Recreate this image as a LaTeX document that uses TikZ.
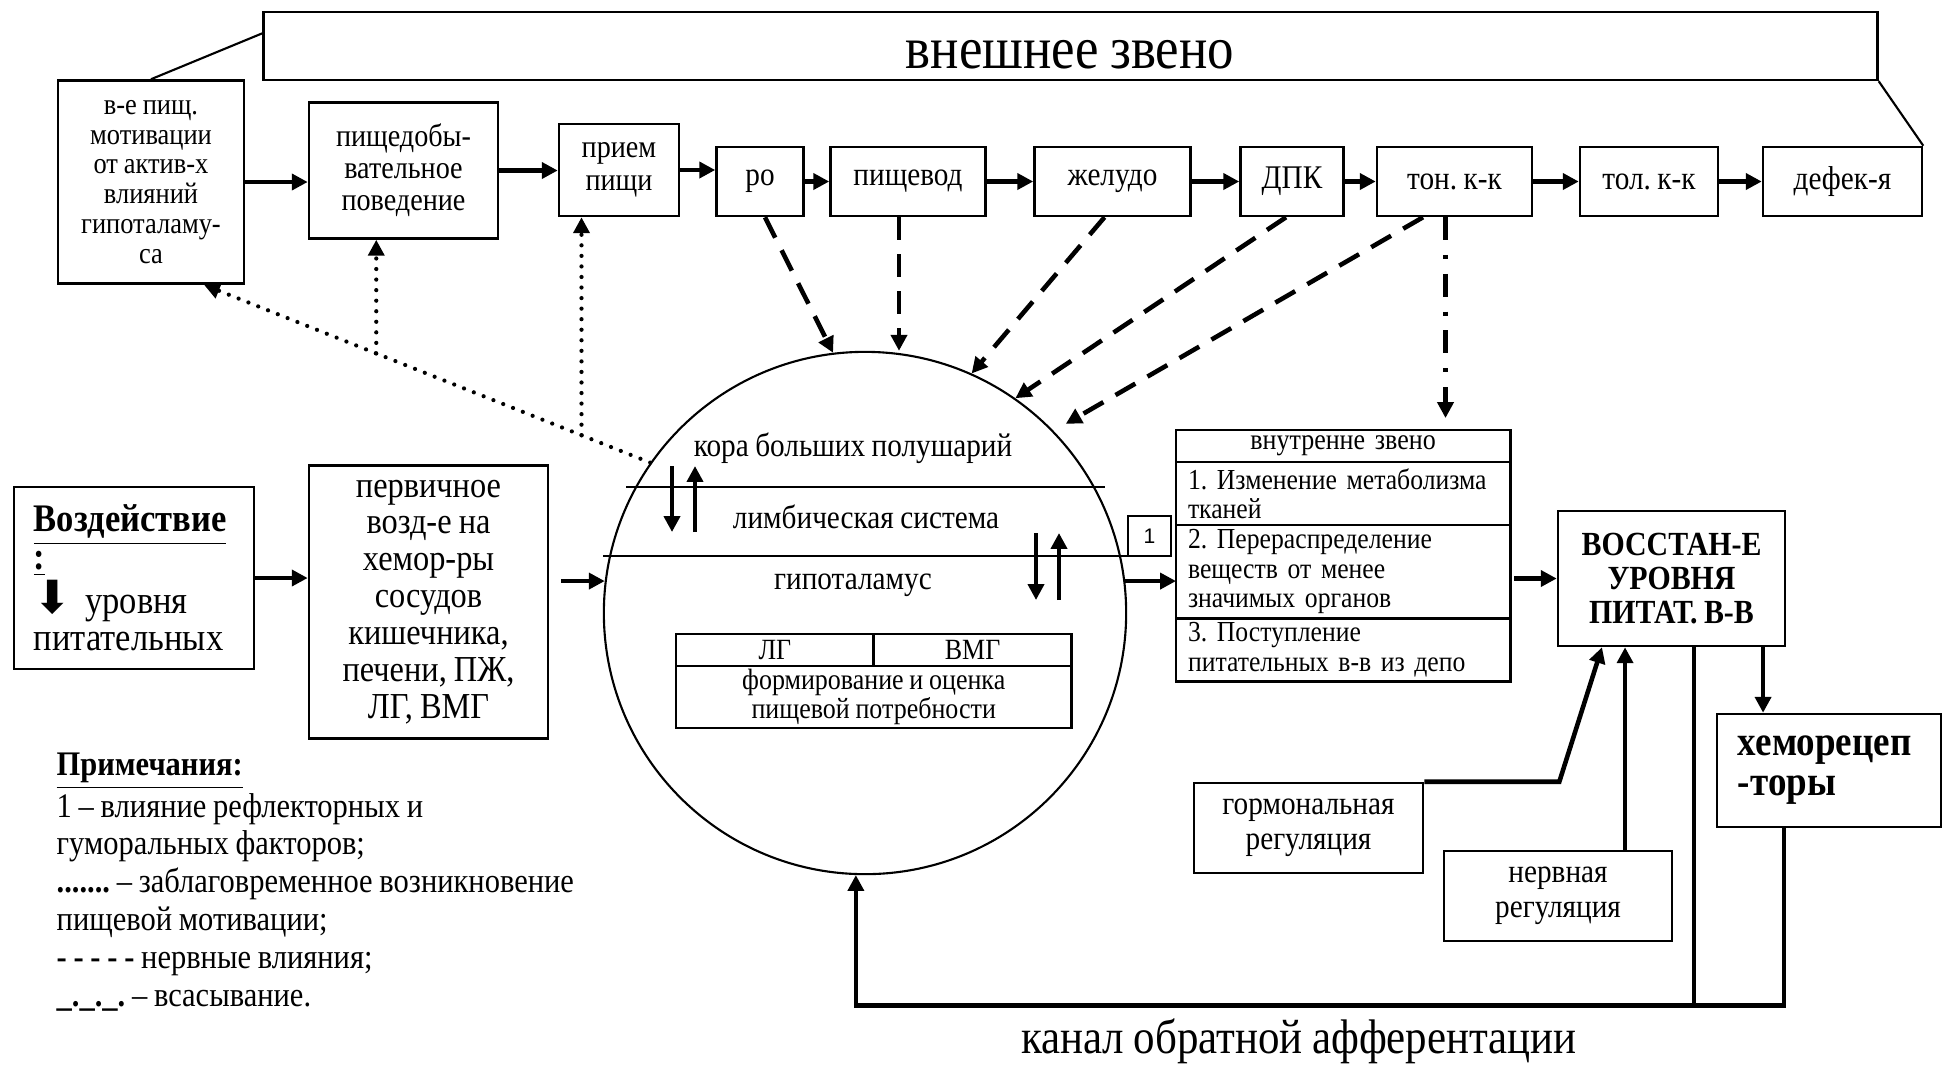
\documentclass[tikz,border=0pt]{standalone}
\usepackage{fontspec}
\setmainfont{Liberation Serif}[FakeStretch=0.885,WordSpace=0.885]
\setsansfont{Liberation Sans}
\newfontfamily\symfont{DejaVu Sans}
\usetikzlibrary{arrows.meta,calc}
\frenchspacing

\begin{document}
\begin{tikzpicture}[x=0.01cm,y=-0.01cm,
  box/.style={draw,line width=0.7pt,inner sep=0pt,align=center},
  organ/.style={box,minimum height=0.69cm,font=\fontsize{9.4pt}{9.5pt}\selectfont},
  cell/.style={box,line width=0.8pt,outer sep=0pt,font=\fontsize{8.35pt}{8.4pt}\selectfont},
  tabrow/.style={box,line width=0.8pt,outer sep=0pt,inner xsep=0.12cm,text width=3.1cm,align=left,
    font=\fontsize{8.25pt}{8.4pt}\selectfont},
  layer/.style={font=\fontsize{9.4pt}{9.5pt}\selectfont},
  regul/.style={box,minimum width=2.29cm,minimum height=0.9cm,font=\fontsize{9.4pt}{10pt}\selectfont},
  arr/.style={line width=1.3pt,-{Triangle[length=4.5pt,width=4.5pt]}},
  nerve/.style={arr,dash pattern=on 6.5pt off 4pt},
  early/.style={arr,line width=1.2pt,line cap=round,dash pattern=on 0pt off 3pt},
  absorb/.style={arr,dash pattern=on 6.5pt off 4.2pt on 1.2pt off 4.2pt},
  thinline/.style={line width=0.6pt}]
  \useasboundingbox (0,0) rectangle (1943,1066);

  \node[box,minimum width=16.13cm,minimum height=0.68cm] (outer) at (1070.5,46) {};
  \node[font=\fontsize{17pt}{19pt}\selectfont] (outerlbl) at (1070,55) {внешнее звено};

  \node[box,minimum width=1.86cm,minimum height=2.03cm,font=\fontsize{8.5pt}{8.5pt}\selectfont]
    (motiv) at (151,182) {в-е пищ.\\мотивации\\от актив-х\\влияний\\гипоталаму-\\са};
  \node[box,minimum width=1.89cm,minimum height=1.36cm,font=\fontsize{9.05pt}{9.1pt}\selectfont]
    (behav) at (403.5,170.5) {пищедобы-\\вательное\\поведение};
  \node[box,minimum width=1.2cm,minimum height=0.92cm,font=\fontsize{9.05pt}{9.3pt}\selectfont]
    (intake) at (619,170) {прием\\пищи};
  \node[organ,minimum width=0.87cm] (mouth) at (760,181.5) {ро};
  \node[organ,minimum width=1.55cm] (esoph) at (908,181.5) {пищевод};
  \node[organ,minimum width=1.56cm] (stomach) at (1112.5,181.5) {желудо};
  \node[organ,minimum width=1.03cm] (duod) at (1292,181.5) {ДПК};
  \node[organ,minimum width=1.55cm] (smallint) at (1454.5,181.5) {тон. к-к};
  \node[organ,minimum width=1.38cm] (largeint) at (1649,181.5) {тол. к-к};
  \node[organ,minimum width=1.59cm] (defec) at (1842.5,181.5) {дефек-я};

  \draw[thinline] (motiv.north) -- ($(outer.north west)!0.32!(outer.south west)$);
  \draw[thinline] (outer.south east) -- (defec.north east);

  \draw[arr] (motiv.east) -- (motiv.east -| behav.west);
  \draw[arr] (behav.east) -- (behav.east -| intake.west);
  \draw[arr] (intake.east) -- (intake.east -| mouth.west);
  \draw[arr] (mouth) -- (esoph);
  \draw[arr] (esoph) -- (stomach);
  \draw[arr] (stomach) -- (duod);
  \draw[arr] (duod) -- (smallint);
  \draw[arr] (smallint) -- (largeint);
  \draw[arr] (largeint) -- (defec);

  \node[draw,circle,line width=0.6pt,minimum size=5.22cm,inner sep=0pt] (brain) at (865,613) {};
  \draw[thinline] (626,487) -- (1105,487);
  \draw[thinline] (603,556) -- (1128,556);
  \node[layer] (cortex) at (853,448) {кора больших полушарий};
  \node[layer] (limbic) at (866,517) {лимбическая система};
  \node[layer] (hypoth) at (853,585) {гипоталамус};
  \coordinate (cl1) at (672,466);
  \coordinate (cl2) at (672,532);
  \coordinate (cl3) at (695,532);
  \coordinate (cl4) at (695,466);
  \coordinate (lh1) at (1036,533);
  \coordinate (lh2) at (1036,600);
  \coordinate (lh3) at (1059,600);
  \coordinate (lh4) at (1059,533);
  \draw[arr] (cl1) -- (cl2);
  \draw[arr] (cl3) -- (cl4);
  \draw[arr] (lh1) -- (lh2);
  \draw[arr] (lh3) -- (lh4);

  \node[cell,minimum width=1.976cm,minimum height=0.32cm,anchor=north west] (lg) at (676,634) {ЛГ};
  \node[cell,minimum width=1.976cm,minimum height=0.32cm,anchor=north west] (vmg) at (lg.north east) {ВМГ};
  \node[cell,minimum width=3.952cm,minimum height=0.62cm,anchor=north west]
    (need) at (lg.south west) {формирование и оценка\\пищевой потребности};

  \node[box,minimum width=2.4cm,minimum height=1.82cm,text width=2.0cm,align=left,
    font=\fontsize{11.1pt}{10.6pt}\selectfont] (impact) at (134,578)
    {\underline{\textbf{Воздействие}}\\\underline{\textbf{:}}\\{\symfont\fontsize{13pt}{10pt}\selectfont ⬇} уровня\\питательных};
  \node[box,minimum width=2.39cm,minimum height=2.73cm,font=\fontsize{10.4pt}{10.5pt}\selectfont]
    (primary) at (428.5,602) {первичное\\возд-е на\\хемор-ры\\сосудов\\кишечника,\\печени, ПЖ,\\ЛГ, ВМГ};
  \draw[arr] (impact.east) -- (impact.east -| primary.west);
  \draw[arr] ([xshift=0.12cm]primary.east |- brain.173) -- (brain.173);

  \node[cell,inner xsep=0.12cm,text width=3.1cm,minimum height=0.32cm,anchor=north west]
    (inhead) at (1176,430) {внутренне звено};
  \node[tabrow,minimum height=0.63cm,anchor=north] (row1) at (inhead.south) {1. Изменение метаболизма\\тканей};
  \node[tabrow,minimum height=0.93cm,anchor=north] (row2) at (row1.south)
    {2. Перераспределение\\веществ от менее\\значимых органов};
  \node[tabrow,minimum height=0.63cm,anchor=north] (row3) at (row2.south)
    {3. Поступление\\питательных в-в из депо};
  \node[box,minimum width=0.43cm,minimum height=0.40cm,font=\sffamily\fontsize{6pt}{7pt}\selectfont]
    (note1) at (1149.5,536) {1};
  \draw[arr] (brain.7.5) -- (brain.7.5 -| row2.west);

  \node[box,minimum width=2.27cm,minimum height=1.35cm,font=\bfseries\fontsize{9.6pt}{9.7pt}\selectfont]
    (restore) at (1671.5,578.5) {ВОССТАН-Е\\УРОВНЯ\\ПИТАТ. В-В};
  \draw[arr] ([xshift=0.04cm]row2.east |- restore.west) -- (restore.west);
  \node[box,minimum width=2.24cm,minimum height=1.13cm,text width=1.82cm,align=left,
    font=\bfseries\fontsize{11.9pt}{11.4pt}\selectfont] (chemo) at (1829,770.5) {хеморецеп\\-торы};
  \node[regul] (hormonal) at (1308.5,828) {гормональная\\регуляция};
  \node[regul,minimum width=2.28cm] (nervous) at (1558,896) {нервная\\регуляция};

  \draw[arr] ([xshift=0.915cm]restore.south) -- ([xshift=0.915cm]restore.south |- chemo.north);
  \draw[arr] ([xshift=0.67cm]nervous.north) -- ([xshift=0.67cm]nervous.north |- restore.south);
  \draw[arr] (hormonal.north east) -- ++(135,0) -- ([xshift=-0.695cm]restore.south);
  \coordinate (fb) at ([xshift=-0.45cm,yshift=-1.77cm]chemo.south);
  \draw[arr] ([xshift=-0.45cm]chemo.south) -- (fb) -| (brain.-92);
  \draw[line width=1.3pt] ([xshift=0.225cm]restore.south) -- ([xshift=0.225cm]restore.south |- fb);
  \node[font=\fontsize{13.8pt}{15pt}\selectfont] (fblbl) at (1299,1041) {канал обратной афферентации};

  \draw[nerve] ([xshift=0.05cm]mouth.south) -- (brain.97);
  \draw[nerve] ([xshift=-0.09cm]esoph.south) -- ([xshift=-0.09cm]esoph.south |- brain.north);
  \draw[nerve] ([xshift=-0.08cm]stomach.south) -- (brain.66.6);
  \draw[nerve] ([xshift=-0.06cm]duod.south) -- (brain.55);
  \draw[nerve,shorten >=4pt] ([xshift=-0.315cm]smallint.south) -- (brain.44);
  \draw[absorb,shorten >=3.4pt] ([xshift=-0.09cm]smallint.south) -- ([xshift=-0.09cm]smallint.south |- inhead.north);

  \coordinate (dotA) at (brain.145.7);
  \coordinate (dotB) at ([xshift=0.53cm]motiv.south);
  \coordinate (j1) at ($(dotA)!0.614!(dotB)$);
  \coordinate (j2) at ($(dotA)!0.154!(dotB)$);
  \draw[early] (dotA) -- (dotB);
  \draw[early] (j1) -- (j1 |- behav.south);
  \draw[early] (j2) -- (j2 |- intake.south);

  \node[anchor=north west,align=left,inner sep=0pt,font=\fontsize{9.8pt}{10.75pt}\selectfont] (notes) at (56,752)
    {\underline{\textbf{Примечания:}}\\1 – влияние рефлекторных и\\гуморальных факторов;\\\textbf{.......} – заблаговременное возникновение\\пищевой мотивации;\\\textbf{- - - - -} нервные влияния;\\\textbf{\_.\_.\_.} – всасывание.};
\end{tikzpicture}
\end{document}
